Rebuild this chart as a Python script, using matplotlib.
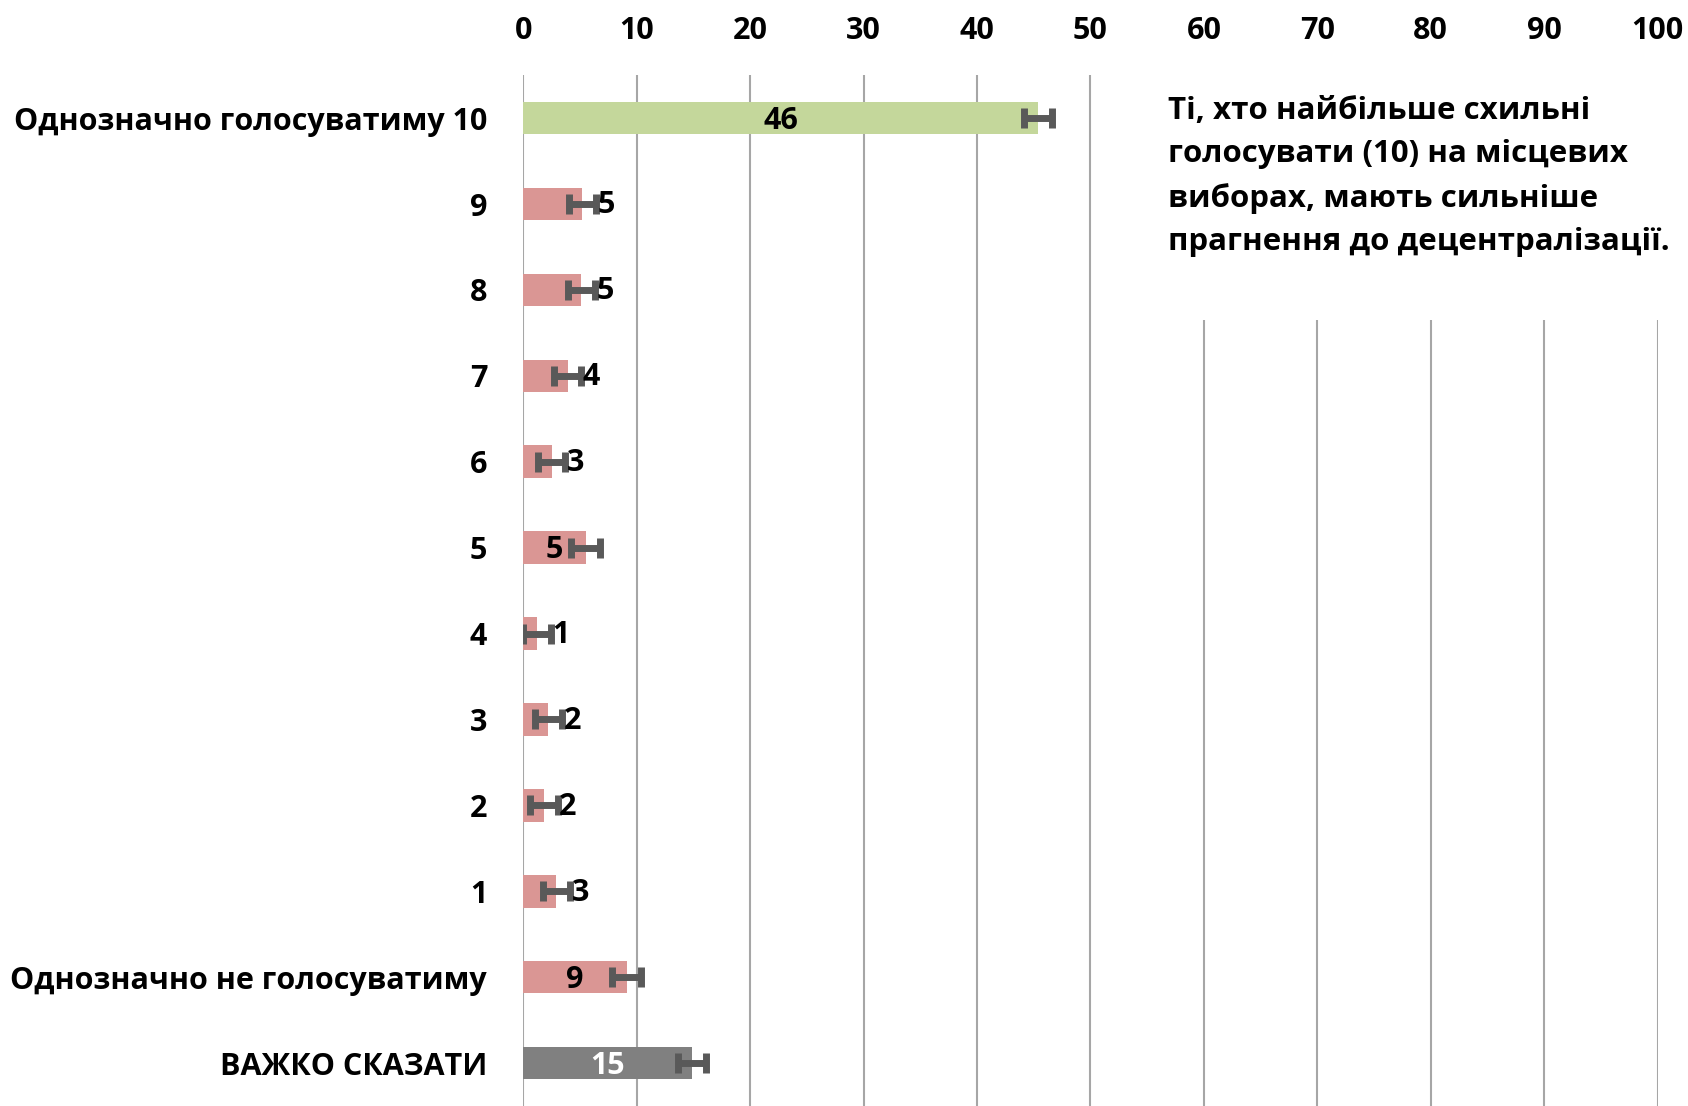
import matplotlib
matplotlib.use('Agg')
import matplotlib.pyplot as plt
from matplotlib.patches import Rectangle

plt.rcParams['font.family'] = ['Open Sans', 'DejaVu Sans']
plt.rcParams['font.weight'] = 'bold'

# Data
categories = ['Однозначно голосуватиму 10', '9', '8', '7', '6', '5', '4', '3', '2', '1',
              'Однозначно не голосуватиму', 'ВАЖКО СКАЗАТИ']
values = [45.4, 5.2, 5.1, 3.9, 2.5, 5.5, 1.2, 2.2, 1.8, 2.9, 9.1, 14.9]
errors = [1.25, 1.2, 1.2, 1.2, 1.2, 1.25, 1.2, 1.2, 1.25, 1.2, 1.25, 1.25]
value_labels = ['46', '5', '5', '4', '3', '5', '1', '2', '2', '3', '9', '15']
label_pos = ['in', 'out', 'out', 'out', 'out', 'in', 'out', 'out', 'out', 'out', 'in', 'in']
bar_colors = ['#C4D79B'] + ['#DA9694'] * 10 + ['#808080']
label_colors = ['black'] * 11 + ['white']
note = ('Ті, хто найбільше схильні\n'
        'голосувати (10) на місцевих\n'
        'виборах, мають сильніше\n'
        'прагнення до децентралізації.')

fig = plt.figure(figsize=(16.88, 11.06), dpi=100)
ax = fig.add_axes([0.31, 0.0, 0.672, 0.932])

y = list(range(len(categories)))
ax.barh(y, values, height=0.38, color=bar_colors, zorder=2)
ax.errorbar(values, y, xerr=errors, fmt='none', ecolor='#595959',
            elinewidth=5, capsize=7.5, capthick=5, zorder=3)

for i, v in enumerate(values):
    if label_pos[i] == 'in':
        ax.annotate(value_labels[i], (v / 2, i), xytext=(0, -2), textcoords='offset points',
                    ha='center', va='center', fontsize=22, fontweight='bold',
                    color=label_colors[i], zorder=4)
    else:
        ax.annotate(value_labels[i], (v, i), xytext=(11, -1), textcoords='offset points',
                    ha='left', va='center', fontsize=22, fontweight='bold',
                    color=label_colors[i], zorder=4)

ax.set_xlim(0, 100)
ax.set_ylim(len(categories) - 0.5, -0.5)
ax.set_xticks(range(0, 101, 10))
ax.xaxis.tick_top()
ax.set_yticks(y)
ax.set_yticklabels(categories)
ax.tick_params(axis='x', length=0, pad=21, labelsize=22)
ax.tick_params(axis='y', length=0, pad=26, labelsize=22)
for lab in ax.get_xticklabels() + ax.get_yticklabels():
    lab.set_fontweight('bold')
ax.grid(axis='x', color='#A6A6A6', linewidth=1.5, zorder=0)
ax.set_axisbelow(True)
for s in ax.spines.values():
    s.set_visible(False)

# white box behind the note hides the upper gridlines on the right
fig.patches.append(Rectangle((0.655, 0.711), 0.345, 0.221, transform=fig.transFigure,
                             facecolor='white', edgecolor='none', zorder=1))
fig.text(0.692, 0.913, note, ha='left', va='top', fontsize=22.5, fontweight='bold',
         linespacing=1.57, zorder=2)

fig.savefig('out.png', dpi=100)
